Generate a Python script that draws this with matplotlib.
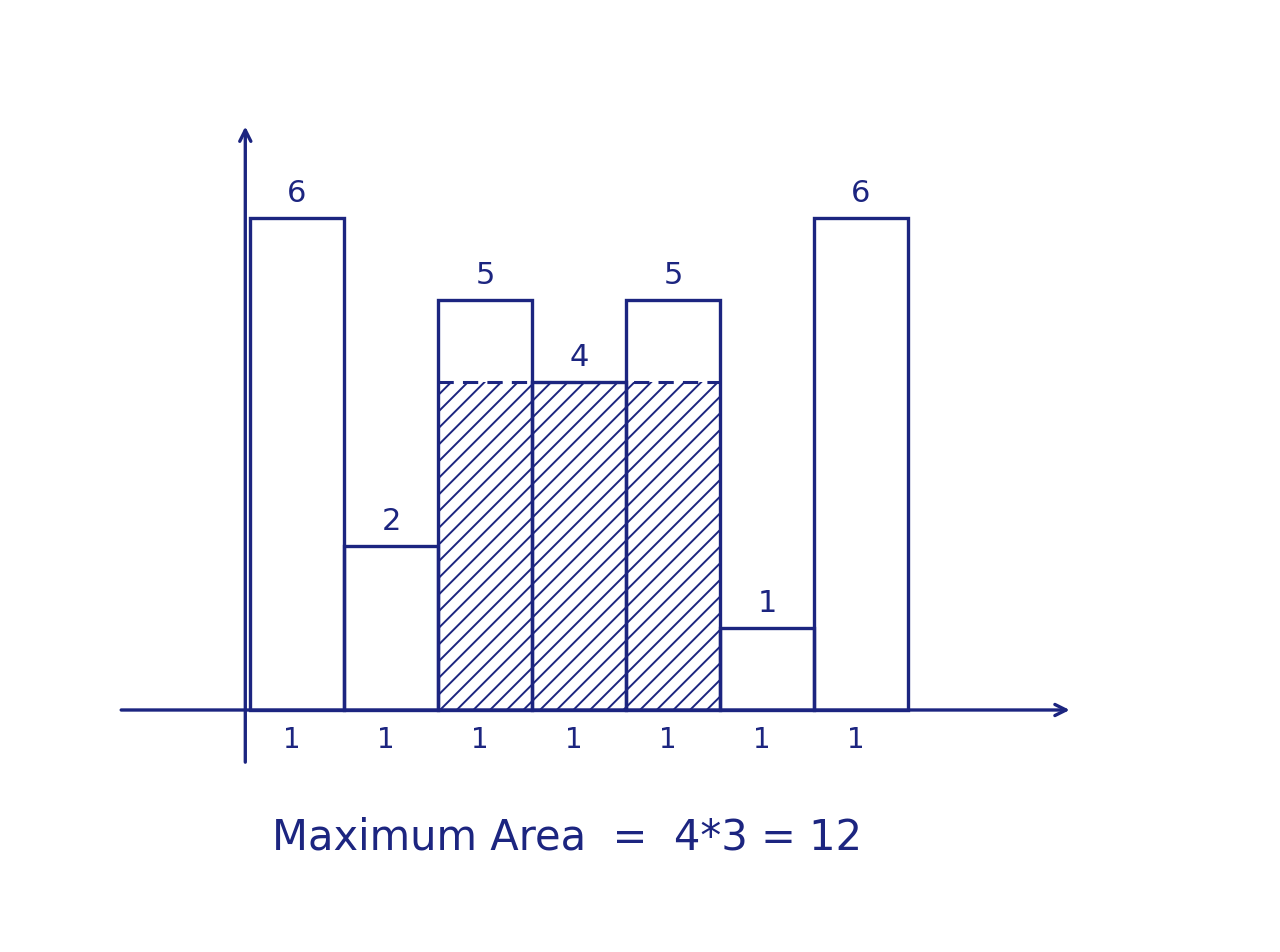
import matplotlib
matplotlib.use("Agg")
import matplotlib.pyplot as plt

# Data
heights = [6, 2, 5, 4, 5, 1, 6]
widths = [1, 1, 1, 1, 1, 1, 1]
width_labels = ["1", "1", "1", "1", "1", "1", "1"]
area_start = 2
area_width = 3
area_height = 4
title_text = "Maximum Area  =  4*3 = 12"

ink = "#1c2580"
plt.rcParams["hatch.linewidth"] = 1.4
plt.rcParams["hatch.color"] = ink

fig = plt.figure(figsize=(12.8, 9.52), dpi=100)
ax = fig.add_axes([0, 0, 1, 1])
ax.set_xlim(-250 / 94, (1280 - 250) / 94)
ax.set_ylim((710 - 952) / 82, 710 / 82)
ax.axis("off")

lefts = [sum(widths[:i]) for i in range(len(widths))]

# hatched max-area region
ax.bar(area_start, area_height, width=area_width, align="edge",
       fill=False, hatch="//", edgecolor=ink, linewidth=0)
ax.hlines(area_height, area_start, area_start + area_width,
          colors=ink, linestyles=(0, (5, 3)), linewidth=2.2)

# bars
ax.bar(lefts, heights, width=widths, align="edge", fill=False,
       edgecolor=ink, linewidth=2.4)

for l, w, h, wl in zip(lefts, widths, heights, width_labels):
    ax.text(l + w / 2, h + 0.12, str(h), ha="center", va="bottom",
            fontsize=22, color=ink)
    ax.text(l + w / 2 - 0.05, -0.37, wl, ha="center", va="center",
            fontsize=20, color=ink)

# axes arrows
ax.annotate("", xy=(8.75, 0), xytext=(-1.4, 0),
            arrowprops=dict(arrowstyle="->,head_length=0.8,head_width=0.4",
                            color=ink, lw=2.4))
ax.annotate("", xy=(-0.05, 7.15), xytext=(-0.05, -0.67),
            arrowprops=dict(arrowstyle="->,head_length=0.8,head_width=0.4",
                            color=ink, lw=2.4))

ax.text(3.37, -1.55, title_text, ha="center", va="center",
        fontsize=30, color=ink)

fig.savefig("out.png", dpi=100, facecolor="white")
